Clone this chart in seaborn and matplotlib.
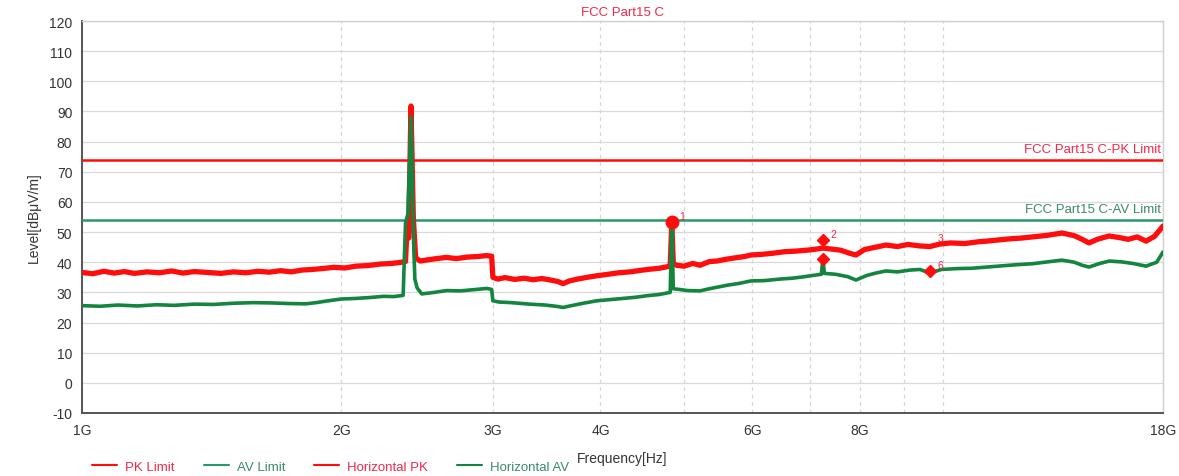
# FCC Part15 C radiated emission scan, 1-18 GHz
import numpy as np
import pandas as pd
import matplotlib
matplotlib.use("Agg")
import matplotlib.pyplot as plt
from matplotlib.lines import Line2D
from matplotlib.ticker import FixedLocator, NullLocator
import seaborn as sns

# ── data (frequency in GHz, level in dBuV/m) ───────────────
limit_freq = [1.0, 18.0]
pk_limit = [74.0, 74.0]
av_limit = [54.0, 54.0]

pk_freq = [1.00, 1.03, 1.06, 1.09, 1.12, 1.15, 1.19, 1.23, 1.27, 1.31,
           1.35, 1.40, 1.45, 1.50, 1.55, 1.60, 1.65, 1.70, 1.75, 1.80,
           1.85, 1.90, 1.96, 2.02, 2.08, 2.15, 2.22, 2.29, 2.35, 2.375,
           2.385, 2.395, 2.41, 2.425, 2.44, 2.47, 2.52, 2.58, 2.65, 2.72,
           2.80, 2.88, 2.95, 2.99, 3.00, 3.04, 3.10, 3.18, 3.26, 3.34,
           3.42, 3.50, 3.57, 3.62, 3.68, 3.76, 3.86, 3.96, 4.08, 4.20,
           4.33, 4.45, 4.57, 4.68, 4.78, 4.82, 4.84, 4.86, 4.90, 5.00,
           5.12, 5.22, 5.35, 5.46, 5.60, 5.75, 5.88, 5.98, 6.15, 6.35,
           6.55, 6.75, 6.95, 7.10, 7.25, 7.40, 7.60, 7.78, 7.92, 8.10,
           8.35, 8.58, 8.85, 9.10, 9.40, 9.65, 9.90, 10.2, 10.6, 11.0,
           11.24, 11.6, 12.0, 12.31, 12.7, 13.2, 13.74, 14.2, 14.5, 14.77,
           15.1, 15.58, 16.0, 16.4, 16.8, 17.2, 17.6, 18.0]
pk_level = [36.6, 36.2, 37.0, 36.4, 36.9, 36.3, 36.8, 36.5, 37.1, 36.4,
            36.9, 36.6, 36.3, 36.8, 36.5, 37.0, 36.7, 37.2, 36.8, 37.4,
            37.6, 37.9, 38.3, 38.1, 38.7, 38.9, 39.4, 39.6, 40.0, 40.2,
            52.0, 48.0, 91.8, 55.0, 41.5, 40.4, 40.8, 41.2, 41.6, 41.2,
            41.7, 41.9, 42.2, 42.0, 35.0, 34.4, 34.9, 34.3, 34.7, 34.2,
            34.6, 34.1, 33.6, 32.9, 33.8, 34.4, 35.0, 35.5, 36.0, 36.5,
            36.8, 37.3, 37.7, 38.0, 38.5, 38.8, 53.3, 39.6, 39.0, 38.7,
            39.6, 39.0, 40.2, 40.4, 41.0, 41.5, 41.9, 42.4, 42.6, 43.0,
            43.5, 43.7, 44.0, 44.3, 44.7, 44.4, 44.0, 43.0, 42.4, 44.2,
            45.0, 45.7, 45.2, 45.9, 45.4, 45.2, 46.0, 46.4, 46.2, 46.8,
            47.0, 47.4, 47.8, 48.0, 48.4, 48.9, 49.7, 48.8, 47.6, 46.4,
            47.6, 48.7, 48.2, 47.6, 48.4, 47.0, 48.6, 52.0]

av_freq = [1.00, 1.05, 1.10, 1.16, 1.22, 1.28, 1.35, 1.42, 1.50, 1.58,
           1.66, 1.74, 1.82, 1.87, 1.93, 2.00, 2.08, 2.16, 2.24, 2.30,
           2.36, 2.375, 2.39, 2.41, 2.425, 2.435, 2.45, 2.48, 2.55, 2.65,
           2.75, 2.85, 2.95, 2.99, 3.00, 3.05, 3.15, 3.31, 3.45, 3.55,
           3.62, 3.70, 3.82, 3.96, 4.10, 4.25, 4.40, 4.53, 4.68, 4.82,
           4.84, 4.86, 4.90, 5.05, 5.22, 5.35, 5.46, 5.62, 5.80, 5.98,
           6.20, 6.45, 6.68, 6.86, 7.05, 7.22, 7.25, 7.28, 7.50, 7.75,
           7.92, 8.15, 8.35, 8.58, 8.85, 9.15, 9.40, 9.65, 9.95, 10.4,
           10.8, 11.24, 11.7, 12.2, 12.7, 13.2, 13.74, 14.2, 14.5, 14.77,
           15.2, 15.6, 16.13, 16.6, 17.2, 17.7, 18.0]
av_level = [25.6, 25.4, 25.8, 25.5, 25.9, 25.7, 26.1, 26.0, 26.4, 26.6,
            26.5, 26.3, 26.2, 26.6, 27.2, 27.8, 28.0, 28.3, 28.7, 28.6,
            29.0, 53.0, 56.0, 88.2, 50.0, 34.4, 31.5, 29.5, 29.9, 30.6,
            30.5, 30.9, 31.3, 31.0, 27.2, 26.8, 26.6, 26.1, 25.8, 25.4,
            25.0, 25.6, 26.4, 27.2, 27.6, 28.0, 28.4, 28.9, 29.3, 30.0,
            53.3, 31.2, 31.1, 30.6, 30.5, 31.2, 31.7, 32.4, 33.0, 33.8,
            33.9, 34.4, 34.7, 35.1, 35.6, 36.0, 41.0, 36.3, 36.0, 35.2,
            34.1, 35.6, 36.4, 37.1, 36.8, 37.4, 37.6, 36.4, 37.6, 37.9,
            38.0, 38.4, 38.8, 39.2, 39.5, 40.1, 40.7, 40.0, 39.0, 38.4,
            39.6, 40.4, 40.1, 39.6, 38.7, 40.0, 43.4]

# marker points: (freq, level, label)
mk_freq = [4.84, 7.25, 7.25, 9.65]
mk_level = [53.3, 47.5, 41.2, 37.1]
mk_labels = ["1", "2", "", "6"]
mk_shapes = ["o", "D", "D", "D"]

x_ticks = [1, 2, 3, 4, 5, 6, 7, 8, 9, 10, 18]
x_ticklabels = ["1G", "2G", "3G", "4G", "", "6G", "", "8G", "", "", "18G"]

RED = "#ff0d0d"
RED_TXT = "#f0284a"
GREEN_LIM = "#27996b"
GREEN = "#14853f"
GREEN_TXT = "#3a8a6c"

# ── figure ─────────────────────────────────────────────────
sns.set_style("white")
plt.rcParams['font.family'] = ['Liberation Sans', 'DejaVu Sans']
plt.rcParams['axes.unicode_minus'] = False

fig = plt.figure(figsize=(11.79, 4.77), dpi=100)
ax = fig.add_axes([82 / 1179, 1 - 414 / 477, (1163 - 82) / 1179, (414 - 22) / 477])

pk_df = pd.DataFrame({"freq": pk_freq, "level": pk_level})
av_df = pd.DataFrame({"freq": av_freq, "level": av_level})

sns.lineplot(x=limit_freq, y=pk_limit, color=RED, lw=1.8, ax=ax, zorder=3)
sns.lineplot(x=limit_freq, y=av_limit, color=GREEN_LIM, lw=1.8, ax=ax, zorder=3)
sns.lineplot(data=pk_df, x="freq", y="level", color=RED, lw=3.8,
             sort=False, ax=ax, zorder=4)
sns.lineplot(data=av_df, x="freq", y="level", color=GREEN, lw=2.6,
             sort=False, ax=ax, zorder=5)

for f, v, lab, m in zip(mk_freq, mk_level, mk_labels, mk_shapes):
    ax.plot(f, v, marker=m, color=RED, ms=9 if m == "o" else 6.5, zorder=6)
    if lab:
        ax.text(f * 1.02, v + 1.0, lab, color=RED_TXT, fontsize=7.5, zorder=7)
ax.text(9.85, 47.0, "3", color=RED_TXT, fontsize=7.5, zorder=7)

ax.set_xscale("log")
ax.set_xlim(1, 18)
ax.set_ylim(-10, 120)
ax.xaxis.set_major_locator(FixedLocator(x_ticks))
ax.xaxis.set_minor_locator(NullLocator())
ax.set_xticklabels(x_ticklabels)
ax.set_yticks(np.arange(-10, 121, 10))

ax.grid(axis="y", color="#d9d9d9", lw=0.9, ls="-")
ax.grid(axis="x", color="#d6d6d6", lw=0.9, ls=(0, (3, 3)))
ax.tick_params(axis="both", direction="inout", length=8, width=1.2,
               color="#555555", labelsize=10, labelcolor="#333333", pad=3)

for side in ["left", "bottom"]:
    ax.spines[side].set_color("#555555")
    ax.spines[side].set_linewidth(1.4)
for side in ["top", "right"]:
    ax.spines[side].set_color("#d0d0d0")
    ax.spines[side].set_linewidth(1.0)

ax.set_xlabel("Frequency[Hz]", fontsize=10, color="#333333", labelpad=10)
ax.set_ylabel("Level[dBμV/m]", fontsize=10, color="#333333", labelpad=6)
ax.set_title("FCC Part15 C", fontsize=9.5, color=RED_TXT, pad=4)

ax.text(17.9, 75.6, "FCC Part15 C-PK Limit", color=RED_TXT, fontsize=9.5,
        ha="right", va="bottom")
ax.text(17.9, 55.6, "FCC Part15 C-AV Limit", color=GREEN_TXT, fontsize=9.5,
        ha="right", va="bottom")

handles = [Line2D([], [], color=RED, lw=1.5),
           Line2D([], [], color=GREEN_LIM, lw=1.5),
           Line2D([], [], color=RED, lw=1.5),
           Line2D([], [], color=GREEN, lw=1.5)]
labels = ["PK Limit", "AV Limit", "Horizontal PK", "Horizontal AV"]
leg = fig.legend(handles, labels, loc="lower left", bbox_to_anchor=(0.068, -0.018),
                 ncol=4, frameon=False, fontsize=9.5, handlelength=1.9,
                 handletextpad=0.6, columnspacing=2.2)
for txt, c in zip(leg.get_texts(), [RED_TXT, GREEN_TXT, RED_TXT, GREEN_TXT]):
    txt.set_color(c)

fig.savefig("out.png", dpi=100)
